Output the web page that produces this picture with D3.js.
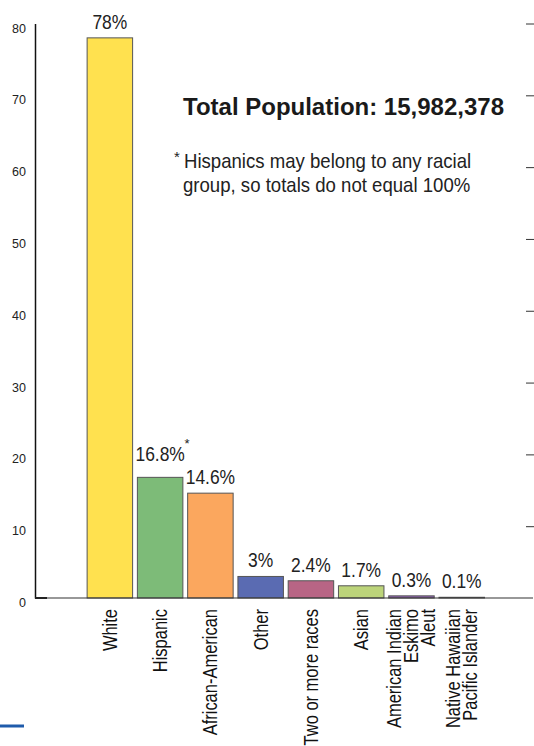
<!DOCTYPE html>
<html>
<head>
<meta charset="utf-8">
<script src="https://cdn.jsdelivr.net/npm/d3@7"></script>
<style>
  body { margin: 0; background: #fff; }
  svg { display: block; font-family: "Liberation Sans", Arial, Helvetica, sans-serif; }
</style>
</head>
<body>
<div id="viz"></div>
<script>
const width = 534;
const height = 746;

// data
const categories = ["White", "Hispanic", "African-American", "Other", "Two or more races",
  "Asian", "American Indian\nEskimo\nAleut", "Native Hawaiian\nPacific Islander"];
const values = [78, 16.8, 14.6, 3, 2.4, 1.7, 0.3, 0.1];
const valueLabels = ["78%", "16.8%", "14.6%", "3%", "2.4%", "1.7%", "0.3%", "0.1%"];
const starred = ["Hispanic"];
const barColors = ["#ffe14f", "#7dbb78", "#fba75e", "#5a6bb2", "#b86585", "#bcd47a", "#8f63b0", "#777777"];
const yTicks = [0, 10, 20, 30, 40, 50, 60, 70, 80];
const title = "Total Population: 15,982,378";
const noteLines = ["Hispanics may belong to any racial", "group, so totals do not equal 100%"];

const svg = d3.select("#viz")
    .append("svg")
    .attr("width", width)
    .attr("height", height);

const yScale = d3.scaleLinear()
    .domain([0, 80])
    .range([598, 23.5]);

const xScale = d3.scaleBand()
    .domain(categories)
    .range([84.6, 487])
    .paddingInner(0.095)
    .paddingOuter(0.05);

// left axis, labels only
const yAxis = d3.axisLeft(yScale)
    .tickValues(yTicks)
    .tickSize(0)
    .tickSizeOuter(0)
    .tickPadding(9);
const gy = svg.append("g")
    .attr("transform", "translate(35,0)")
    .call(yAxis);
gy.select(".domain").attr("stroke", "#111").attr("stroke-width", 1.5);
gy.selectAll("text")
    .attr("y", 4.5)
    .attr("font-size", 12.5)
    .attr("font-family", null)
    .attr("fill", "#222");

// right side tick marks
const yAxisRight = d3.axisRight(yScale)
    .tickValues(yTicks.slice(1))
    .tickSize(8)
    .tickFormat("");
const gr = svg.append("g")
    .attr("transform", "translate(526,0)")
    .call(yAxisRight);
gr.select(".domain").remove();
gr.selectAll("line").attr("stroke", "#333");

// bars
svg.selectAll("rect.bar")
    .data(categories)
    .join("rect")
    .attr("class", "bar")
    .attr("x", d => xScale(d))
    .attr("y", (d, i) => yScale(values[i]))
    .attr("width", xScale.bandwidth())
    .attr("height", (d, i) => yScale(0) - yScale(values[i]))
    .attr("fill", (d, i) => barColors[i])
    .attr("stroke", "#555")
    .attr("stroke-width", 1);

// baseline
svg.append("line")
    .attr("x1", 35).attr("x2", 533)
    .attr("y1", yScale(0)).attr("y2", yScale(0))
    .attr("stroke", "#333").attr("stroke-width", 1.2);
svg.append("line")
    .attr("x1", 35).attr("x2", 47)
    .attr("y1", yScale(0)).attr("y2", yScale(0))
    .attr("stroke", "#222").attr("stroke-width", 2);

// value labels above bars
categories.forEach((c, i) => {
    const cx = xScale(c) + xScale.bandwidth() / 2;
    const lift = starred.includes(c) ? 16 : 9;
    const cy = yScale(values[i]) - lift;
    svg.append("text")
        .attr("transform", `translate(${cx},${cy}) scale(0.83,1)`)
        .attr("text-anchor", "middle")
        .attr("font-size", 21)
        .attr("fill", "#222")
        .text(valueLabels[i]);
    if (starred.includes(c)) {
        svg.append("text")
            .attr("x", cx + 27)
            .attr("y", cy - 13)
            .attr("text-anchor", "middle")
            .attr("font-size", 13)
            .attr("fill", "#222")
            .text("*");
    }
});

// rotated category labels
categories.forEach(c => {
    const lines = c.split("\n");
    const cx = xScale(c) + xScale.bandwidth() / 2;
    lines.forEach((line, j) => {
        const lx = cx + (j - (lines.length - 1) / 2) * 17;
        svg.append("text")
            .attr("transform", `translate(${lx},609) rotate(-90) scale(0.845,1)`)
            .attr("text-anchor", "end")
            .attr("dy", "0.36em")
            .attr("font-size", 19.5)
            .attr("fill", "#111")
            .text(line);
    });
});

// title and note
svg.append("text")
    .attr("x", 183)
    .attr("y", 115)
    .attr("font-size", 24)
    .attr("font-weight", "bold")
    .attr("fill", "#1a1a1a")
    .text(title);

svg.append("text")
    .attr("x", 177)
    .attr("y", 162)
    .attr("text-anchor", "middle")
    .attr("font-size", 15)
    .attr("fill", "#222")
    .text("*");

noteLines.forEach((line, i) => {
    svg.append("text")
        .attr("transform", `translate(${i === 0 ? 184 : 183},${168 + i * 24}) scale(0.93,1)`)
        .attr("font-size", 20)
        .attr("fill", "#222")
        .text(line);
});

// small blue rule bottom-left
svg.append("line")
    .attr("x1", 0).attr("x2", 24)
    .attr("y1", 726).attr("y2", 726)
    .attr("stroke", "#1f5bab").attr("stroke-width", 3);
</script>
</body>
</html>
